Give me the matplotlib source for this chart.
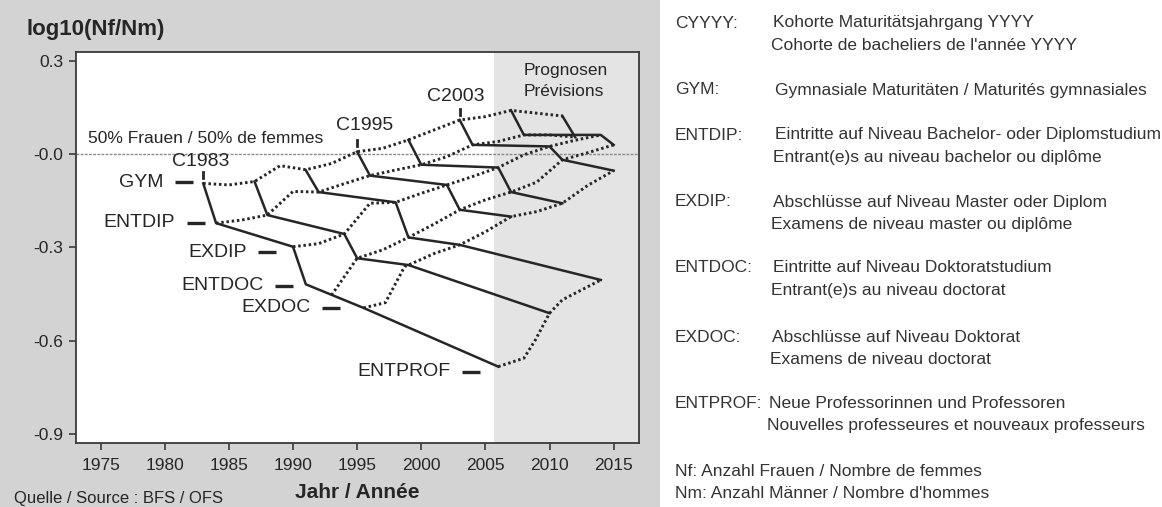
import matplotlib
matplotlib.use("Agg")
import matplotlib.pyplot as plt
from matplotlib.patches import Rectangle

plt.rcParams["font.family"] = ["Liberation Sans", "DejaVu Sans"]
INK = "#262626"

# cohort paths (solid): GYM -> ENTDIP -> EXDIP -> ENTDOC -> EXDOC -> ENTPROF
c1983_x = [1983, 1984, 1990, 1991, 1995.5, 2006]
c1983_y = [-0.094, -0.222, -0.298, -0.419, -0.495, -0.684]
c1987_x = [1987, 1988, 1994, 1995, 1999, 2010]
c1987_y = [-0.088, -0.196, -0.257, -0.335, -0.357, -0.512]
c1991_x = [1991, 1992, 1998, 1999, 2003, 2014]
c1991_y = [-0.052, -0.122, -0.155, -0.268, -0.292, -0.405]
c1995_x = [1995, 1996, 2002, 2003, 2007]
c1995_y = [0.008, -0.069, -0.099, -0.179, -0.201]
c1999_x = [1999, 2000, 2006, 2007, 2011]
c1999_y = [0.046, -0.034, -0.043, -0.122, -0.158]
c2003_x = [2003, 2004, 2010, 2011, 2015]
c2003_y = [0.110, 0.030, 0.025, -0.018, -0.053]
c2007_x = [2007, 2008, 2014, 2015]
c2007_y = [0.141, 0.062, 0.062, 0.030]
c2011_x = [2011, 2012]
c2011_y = [0.123, 0.055]

# stage paths (dotted)
gym_x = [1983, 1985, 1987, 1989, 1991, 1993, 1995, 1997, 1999, 2001, 2003, 2005, 2007, 2009, 2011]
gym_y = [-0.094, -0.099, -0.088, -0.037, -0.050, -0.030, 0.008, 0.019, 0.046, 0.078, 0.110, 0.121, 0.141, 0.132, 0.123]
entdip_x = [1984, 1986, 1988, 1990, 1992, 1994, 1996, 1998, 2000, 2002, 2004, 2006, 2008, 2010, 2012]
entdip_y = [-0.222, -0.212, -0.196, -0.120, -0.122, -0.095, -0.069, -0.051, -0.034, -0.008, 0.030, 0.041, 0.062, 0.062, 0.055]
exdip_x = [1990, 1992, 1994, 1996, 1998, 2000, 2002, 2004, 2006, 2008, 2010, 2012, 2014]
exdip_y = [-0.298, -0.288, -0.257, -0.158, -0.155, -0.126, -0.099, -0.072, -0.043, -0.002, 0.025, 0.045, 0.062]
entdoc_x = [1993, 1995, 1997, 1999, 2001, 2003, 2005, 2007, 2009, 2011, 2013, 2015]
entdoc_y = [-0.454, -0.335, -0.308, -0.268, -0.225, -0.179, -0.147, -0.122, -0.090, -0.018, 0.005, 0.030]
exdoc_x = [1995.5, 1997.2, 1998.7, 1999, 2001, 2003, 2005, 2007, 2009, 2011, 2013, 2015]
exdoc_y = [-0.495, -0.478, -0.362, -0.357, -0.320, -0.292, -0.250, -0.201, -0.185, -0.158, -0.100, -0.053]
entprof_x = [2006, 2008, 2008.9, 2010, 2011, 2014]
entprof_y = [-0.684, -0.657, -0.598, -0.512, -0.469, -0.405]

stage_names = ["GYM", "ENTDIP", "EXDIP", "ENTDOC", "EXDOC", "ENTPROF"]
label_gap = [0.8, 0.9, 1.3, 1.0, 1.85, 1.4]        # years between dash and C1983 point
label_dy = [0.003, 0.001, -0.017, -0.005, 0.001, -0.016]

keys = ["CYYYY:", "GYM:", "ENTDIP:", "EXDIP:", "ENTDOC:", "EXDOC:", "ENTPROF:"]
desc_de = ["Kohorte Maturitätsjahrgang YYYY", "Gymnasiale Maturitäten / Maturités gymnasiales",
           "Eintritte auf Niveau Bachelor- oder Diplomstudium", "Abschlüsse auf Niveau Master oder Diplom",
           "Eintritte auf Niveau Doktoratstudium", "Abschlüsse auf Niveau Doktorat",
           "Neue Professorinnen und Professoren"]
desc_fr = ["Cohorte de bacheliers de l'année YYYY", "", "Entrant(e)s au niveau bachelor ou diplôme",
           "Examens de niveau master ou diplôme", "Entrant(e)s au niveau doctorat",
           "Examens de niveau doctorat", "Nouvelles professeures et nouveaux professeurs"]
notes = ["Nf: Anzahl Frauen / Nombre de femmes", "Nm: Anzahl Männer / Nombre d'hommes"]

W, H = 1162, 507
def px(x, y):
    return x / W, 1 - y / H

fig = plt.figure(figsize=(W / 100, H / 100), dpi=100)
fig.patches.append(Rectangle((0, 0), 660 / W, 1, transform=fig.transFigure,
                             fc="#d3d3d3", ec="none", zorder=-5))
ax = fig.add_axes([76 / W, 1 - 442.7 / H, (639.3 - 76) / W, (442.7 - 51.7) / H])
ax.set_xlim(1973.08, 2017.0)
ax.set_ylim(-0.929, 0.330)
ax.set_facecolor("white")
ax.axvspan(2005.7, 2017.0, fc="#e4e4e4", ec="none", zorder=0)
ax.axhline(0, color="#8a8a8a", lw=1.0, ls=(0, (2, 1)), zorder=1)

cohorts = [(c1983_x, c1983_y), (c1987_x, c1987_y), (c1991_x, c1991_y), (c1995_x, c1995_y),
           (c1999_x, c1999_y), (c2003_x, c2003_y), (c2007_x, c2007_y), (c2011_x, c2011_y)]
stages = [(gym_x, gym_y), (entdip_x, entdip_y), (exdip_x, exdip_y), (entdoc_x, entdoc_y),
          (exdoc_x, exdoc_y), (entprof_x, entprof_y)]
for xs, ys in stages:
    ax.plot(xs, ys, color=INK, lw=2.1, ls=(0, (0.85, 0.95)), zorder=2)
for xs, ys in cohorts:
    ax.plot(xs, ys, color=INK, lw=1.8, zorder=3)

# cohort labels with small tick above the GYM point
for name, (xs, ys), dx, dy in [("C1983", cohorts[0], -0.23, 0.071),
                               ("C1995", cohorts[3], 0.6, 0.085),
                               ("C2003", cohorts[5], -0.28, 0.076)]:
    ax.plot([xs[0], xs[0]], [ys[0] + 0.017, ys[0] + 0.037], color=INK, lw=2, zorder=3)
    ax.text(xs[0] + dx, ys[0] + dy, name, ha="center", va="center", fontsize=14, color=INK)

# stage labels pointing at the C1983 cohort
for name, x0, y0, gap, dy in zip(stage_names, c1983_x, c1983_y, label_gap, label_dy):
    xr = x0 - gap
    ax.plot([xr - 1.4, xr], [y0 + dy, y0 + dy], color=INK, lw=2.4, solid_capstyle="butt", zorder=3)
    ax.text(xr - 2.3, y0 + dy, name, ha="right", va="center", fontsize=14, color=INK)

ax.text(1992.35, 0.052, "50% Frauen / 50% de femmes", ha="right", va="center", fontsize=12.5, color=INK)
ax.text(2008.0, 0.271, "Prognosen", ha="left", va="center", fontsize=12.5, color=INK)
ax.text(2008.0, 0.202, "Prévisions", ha="left", va="center", fontsize=12.5, color=INK)

ax.set_xticks(range(1975, 2016, 5))
ax.set_yticks([0.3, 0.0, -0.3, -0.6, -0.9])
ax.set_yticklabels(["0.3", "-0.0", "-0.3", "-0.6", "-0.9"])
ax.tick_params(direction="out", length=5, width=1.2, color="#3a3a3a", labelsize=12.5,
               labelcolor=INK)
ax.tick_params(axis="x", pad=6)
ax.tick_params(axis="y", pad=4)
for sp in ax.spines.values():
    sp.set_color("#3a3a3a")
    sp.set_linewidth(1.3)

fig.text(*px(26, 29), "log10(Nf/Nm)", ha="left", va="center", fontsize=16, fontweight="bold", color=INK)
fig.text(*px(357, 492), "Jahr / Année", ha="center", va="center", fontsize=15, fontweight="bold", color=INK)
fig.text(*px(14, 499), "Quelle / Source : BFS / OFS", ha="left", va="center", fontsize=12, color=INK)

# legend panel on the right
key_y = [23, 90, 135, 202, 268, 337, 403]
desc_x = [773, 775, 775, 773, 773, 772, 769]
for k, d1, d2, y, dx in zip(keys, desc_de, desc_fr, key_y, desc_x):
    fig.text(*px(675, y), k, ha="left", va="center", fontsize=12.5, color="#333333")
    fig.text(*px(dx, y), d1, ha="left", va="center", fontsize=12.5, color="#333333")
    if d2:
        fig.text(*px(dx - 2, y + 22.5), d2, ha="left", va="center", fontsize=12.5, color="#333333")
for i, n in enumerate(notes):
    fig.text(*px(675, 472 + 21.5 * i), n, ha="left", va="center", fontsize=12.5, color="#333333")

fig.savefig("out.png", dpi=100)
